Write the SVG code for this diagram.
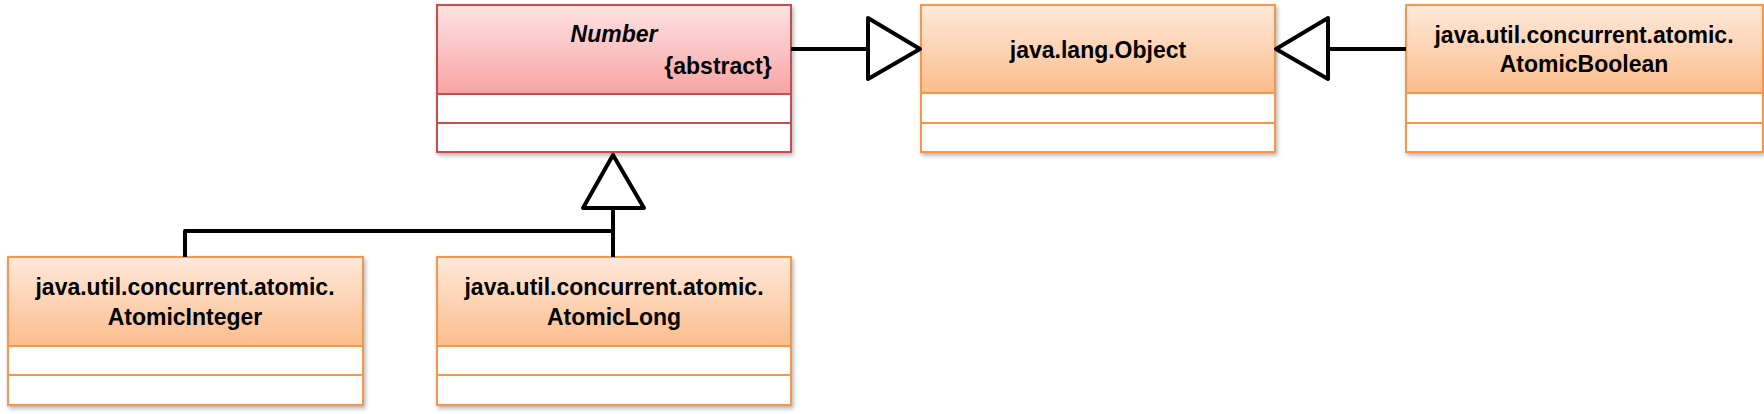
<svg xmlns="http://www.w3.org/2000/svg" width="1764" height="414" viewBox="0 0 1764 414">
<defs>
<linearGradient id="gOrange" x1="0" y1="0" x2="0" y2="1">
<stop offset="0" stop-color="#fee9da"/>
<stop offset="1" stop-color="#fbbd8c"/>
</linearGradient>
<linearGradient id="gRed" x1="0" y1="0" x2="0" y2="1">
<stop offset="0" stop-color="#fde2e3"/>
<stop offset="1" stop-color="#f9a3a3"/>
</linearGradient>
<filter id="sh" x="-5%" y="-5%" width="110%" height="115%">
<feDropShadow dx="1.5" dy="2.5" stdDeviation="2" flood-color="#000" flood-opacity="0.3"/>
</filter>
</defs>
<style>
.box{fill:#fff;filter:url(#sh)}
.o{stroke:#f79646;stroke-width:2}
.r{stroke:#c0504d;stroke-width:2}
.ho{fill:url(#gOrange)}
.hr{fill:url(#gRed)}
.t{font-family:"Liberation Sans",Arial,sans-serif;font-weight:bold;font-size:23px;fill:#000;text-anchor:middle}
.con{fill:none;stroke:#000;stroke-width:4;stroke-linejoin:round}
.tri{fill:#fff;stroke:#000;stroke-width:4;stroke-linejoin:round}
</style>

<g id="node-number">
<rect class="box r" x="437" y="5" width="354" height="147"/>
<rect class="hr" x="438" y="6" width="352" height="88"/>
<line class="r" x1="437" y1="94" x2="791" y2="94"/>
<line class="r" x1="437" y1="123" x2="791" y2="123"/>
<rect x="437" y="5" width="354" height="147" fill="none" class="r"/>
<text class="t" x="614" y="42" font-style="italic">Number</text>
<text class="t" x="718" y="74">{abstract}</text>
</g>

<g id="node-object">
<rect class="box o" x="921" y="5" width="354" height="147"/>
<rect class="ho" x="922" y="6" width="352" height="87"/>
<line class="o" x1="921" y1="93" x2="1275" y2="93"/>
<line class="o" x1="921" y1="123" x2="1275" y2="123"/>
<rect x="921" y="5" width="354" height="147" fill="none" class="o"/>
<text class="t" x="1098" y="58">java.lang.Object</text>
</g>

<g id="node-atomicboolean">
<rect class="box o" x="1406" y="5" width="357" height="147"/>
<rect class="ho" x="1407" y="6" width="355" height="87"/>
<line class="o" x1="1406" y1="93" x2="1763" y2="93"/>
<line class="o" x1="1406" y1="123" x2="1763" y2="123"/>
<rect x="1406" y="5" width="357" height="147" fill="none" class="o"/>
<text class="t" x="1584" y="43">java.util.concurrent.atomic.</text>
<text class="t" x="1584" y="72">AtomicBoolean</text>
</g>

<g id="node-atomicinteger">
<rect class="box o" x="8" y="257" width="355" height="148"/>
<rect class="ho" x="9" y="258" width="353" height="88"/>
<line class="o" x1="8" y1="346" x2="363" y2="346"/>
<line class="o" x1="8" y1="375" x2="363" y2="375"/>
<rect x="8" y="257" width="355" height="148" fill="none" class="o"/>
<text class="t" x="185" y="295">java.util.concurrent.atomic.</text>
<text class="t" x="185" y="325">AtomicInteger</text>
</g>

<g id="node-atomiclong">
<rect class="box o" x="437" y="257" width="354" height="148"/>
<rect class="ho" x="438" y="258" width="352" height="88"/>
<line class="o" x1="437" y1="346" x2="791" y2="346"/>
<line class="o" x1="437" y1="375" x2="791" y2="375"/>
<rect x="437" y="257" width="354" height="148" fill="none" class="o"/>
<text class="t" x="614" y="295">java.util.concurrent.atomic.</text>
<text class="t" x="614" y="325">AtomicLong</text>
</g>

<g id="connectors">
<path class="con" d="M791 49 H868"/>
<polygon class="tri" points="868,18 920,49 868,79"/>
<path class="con" d="M1406 49 H1328"/>
<polygon class="tri" points="1328,18 1276,49 1328,79"/>
<path class="con" d="M185 257 V231 H613"/>
<path class="con" d="M613 257 V208"/>
<polygon class="tri" points="583,208 613,155 644,208"/>
</g>
</svg>
